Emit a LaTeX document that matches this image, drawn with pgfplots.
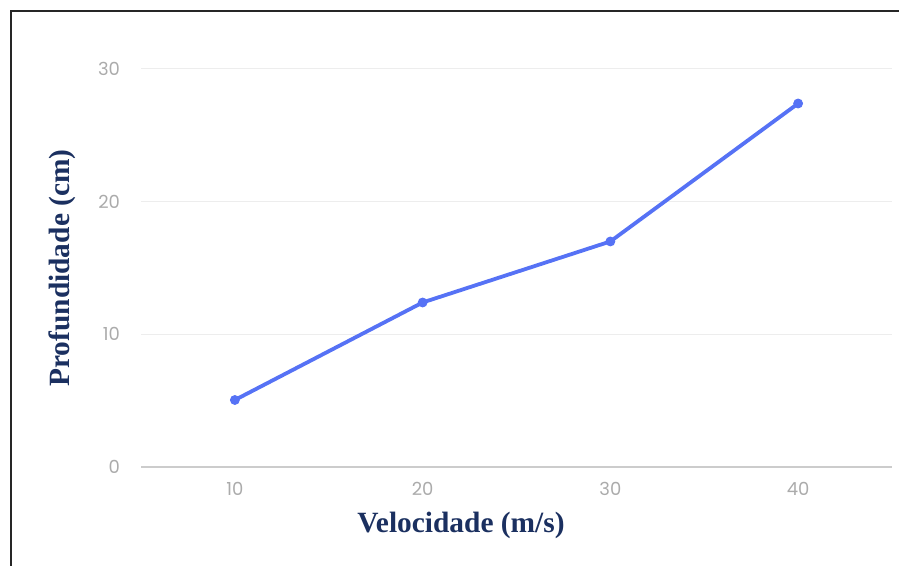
\documentclass[border=0pt]{standalone}
\usepackage{pgfplots}
\pgfplotsset{compat=1.18}
\usepackage{fontspec}
\setmainfont{Liberation Serif}
\newfontfamily\tickfont{Poppins}
\definecolor{linec}{HTML}{5672F5}
\definecolor{navy}{HTML}{1B3060}
\definecolor{tickc}{HTML}{ABABAB}
\begin{document}
\begin{tikzpicture}
\useasboundingbox (0,0) rectangle (449.5pt,283pt);
\draw[line width=1pt,black!85] (5.5pt,-2pt) -- (5.5pt,277.5pt) -- (452pt,277.5pt);
\begin{axis}[
  at={(70.5pt,49.5pt)}, anchor=south west,
  scale only axis, width=375.5pt, height=199pt,
  xmin=5, xmax=45, ymin=0, ymax=30,
  xtick={10,20,30,40}, ytick={0,10,20,30},
  axis line style={draw=none},
  axis x line*=bottom, axis y line*=left,
  major tick length=0pt,
  ymajorgrids, grid style={color=black!7, line width=0.5pt},
  tick label style={font=\tickfont\fontsize{9}{10}\selectfont, text=tickc},
  /pgf/number format/assume math mode=true,
  xticklabel style={yshift=-4pt},
  yticklabel style={xshift=-7pt},
  clip=false,
]
\draw[color=black!20, line width=0.6pt] (axis cs:5,0) -- (axis cs:45,0);
\addplot[color=linec, line width=1.9pt, mark=*, mark size=2.2pt, mark options={fill=linec, draw=linec, line width=0.5pt}] coordinates {
(10,5.05) (20,12.4) (30,17.0) (40,27.4)};
\end{axis}
\node[font=\bfseries\fontsize{14.7}{17}\selectfont, text=navy] at (230.5pt,20.5pt) {Velocidade (m/s)};
\node[font=\bfseries\fontsize{14.7}{17}\selectfont, text=navy, rotate=90] at (31pt,149pt) {Profundidade (cm)};
\end{tikzpicture}
\end{document}
